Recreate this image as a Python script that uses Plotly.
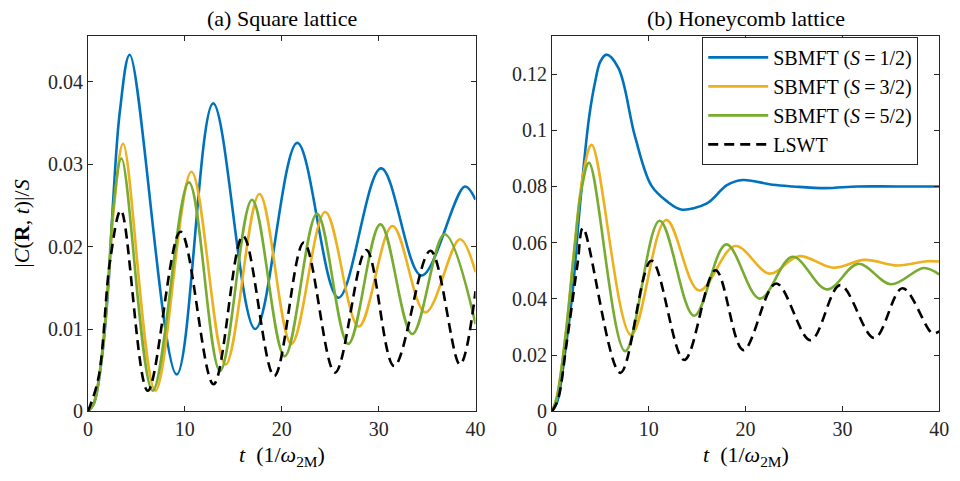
import plotly.graph_objects as go

# ---------------- data: (a) square lattice ----------------
sq_t_s12 = [0, 0.6, 1.43, 2.1, 2.61, 3.3, 4.31, 9.16, 12.92, 17.26, 21.6, 25.85, 30.25, 34.42, 38.9, 40]
sq_y_s12 = [0, 0.0009, 0.0064, 0.0152, 0.0258, 0.0365, 0.0433, 0.00447, 0.0374, 0.0100, 0.0326, 0.0138, 0.0295, 0.0165, 0.0273, 0.0257]

sq_t_s32 = [0, 0.6, 1.43, 2.1, 2.7, 3.63, 6.96, 10.68, 14.2, 17.7, 21.0, 24.49, 27.95, 31.43, 34.83, 38.39, 40]
sq_y_s32 = [0, 0.001, 0.0067, 0.0158, 0.025, 0.0325, 0.0025, 0.0291, 0.0057, 0.0264, 0.0082, 0.0242, 0.0103, 0.0225, 0.0120, 0.0209, 0.0169]

sq_t_s52 = [0, 0.6, 1.43, 2.1, 2.6, 3.46, 6.68, 10.42, 13.63, 16.93, 20.3, 23.64, 26.86, 30.18, 33.47, 36.8, 40]
sq_y_s52 = [0, 0.001, 0.0068, 0.016, 0.0245, 0.0307, 0.0025, 0.0278, 0.0049, 0.0257, 0.0067, 0.0240, 0.0082, 0.0227, 0.0094, 0.0215, 0.0106]

sq_t_lswt = [0, 1.09, 2.28, 3.4, 6.17, 9.55, 12.96, 16.0, 19.23, 22.28, 25.5, 28.73, 31.6, 35.34, 38.39, 40]
sq_y_lswt = [0, 0.0041, 0.0183, 0.0244, 0.0025, 0.0218, 0.0033, 0.0213, 0.0043, 0.0205, 0.0047, 0.0196, 0.0055, 0.0195, 0.0057, 0.0146]

# ---------------- data: (b) honeycomb lattice ----------------
hc_t_s12 = [0, 0.5, 1.45, 2.2, 2.8, 3.83, 4.5, 5.0, 5.63, 6.88, 8.58, 10.27, 11.96, 13.33, 16.0, 18.07, 19.7, 22.8, 24.9, 28.2, 31.6, 35.5, 40]
hc_y_s12 = [0, 0.003, 0.0235, 0.045, 0.070, 0.1046, 0.1180, 0.1245, 0.1269, 0.1220, 0.0977, 0.0803, 0.0745, 0.0718, 0.0740, 0.0805, 0.0823, 0.0806, 0.0800, 0.0794, 0.0800, 0.0800, 0.0800]

hc_t_s32 = [0, 0.5, 1.4, 2.3, 3.2, 4.1, 8.17, 11.8, 15.19, 18.92, 22.48, 25.5, 29.1, 32.3, 35.7, 38.76, 40]
hc_y_s32 = [0, 0.005, 0.027, 0.058, 0.084, 0.0948, 0.0272, 0.0681, 0.043, 0.0588, 0.049, 0.0552, 0.0511, 0.0539, 0.0519, 0.0534, 0.0533]

hc_t_s52 = [0, 0.5, 1.4, 2.3, 3.0, 3.83, 7.56, 11.12, 14.68, 18.0, 21.47, 24.85, 28.41, 31.64, 35.03, 38.4, 40]
hc_y_s52 = [0, 0.005, 0.027, 0.057, 0.078, 0.0884, 0.0214, 0.0678, 0.034, 0.0594, 0.0401, 0.055, 0.0434, 0.0525, 0.0452, 0.051, 0.0487]

hc_t_lswt = [0, 0.6, 1.5, 2.64, 3.2, 7.05, 10.27, 13.66, 16.89, 19.77, 23.15, 26.71, 29.77, 33.3, 36.2, 39.3, 40]
hc_y_lswt = [0, 0.004, 0.024, 0.0525, 0.0652, 0.0137, 0.0536, 0.0183, 0.0502, 0.0218, 0.0455, 0.0253, 0.0449, 0.0261, 0.0438, 0.0278, 0.0285]

series_names = ["SBMFT (<i>S</i>\u2009=\u20091/2)", "SBMFT (<i>S</i>\u2009=\u20093/2)",
                "SBMFT (<i>S</i>\u2009=\u20095/2)", "LSWT"]
x_ticks = [0, 10, 20, 30, 40]
sq_y_ticks = [0, 0.01, 0.02, 0.03, 0.04]
sq_y_ticktext = ["0", "0.01", "0.02", "0.03", "0.04"]
hc_y_ticks = [0, 0.02, 0.04, 0.06, 0.08, 0.1, 0.12]
hc_y_ticktext = ["0", "0.02", "0.04", "0.06", "0.08", "0.1", "0.12"]
titles = ["(a) Square lattice", "(b) Honeycomb lattice"]

colors = ["#0072BD", "#EDB120", "#77AC30", "#000000"]
FONT = "Liberation Serif, Times New Roman, serif"
AXC = "#262626"

fig = go.Figure()

sq = [(sq_t_s12, sq_y_s12), (sq_t_s32, sq_y_s32), (sq_t_s52, sq_y_s52), (sq_t_lswt, sq_y_lswt)]
hc = [(hc_t_s12, hc_y_s12), (hc_t_s32, hc_y_s32), (hc_t_s52, hc_y_s52), (hc_t_lswt, hc_y_lswt)]

for i, (t, y) in enumerate(sq):
    fig.add_trace(go.Scatter(
        x=t, y=y, mode="lines", xaxis="x", yaxis="y", showlegend=False,
        line=dict(color=colors[i], width=2.6, shape="spline", smoothing=1.0,
                  dash="10px,6px" if i == 3 else "solid"),
        name=series_names[i]))

for i, (t, y) in enumerate(hc):
    fig.add_trace(go.Scatter(
        x=t, y=y, mode="lines", xaxis="x2", yaxis="y2", showlegend=True,
        line=dict(color=colors[i], width=2.6, shape="spline", smoothing=1.0,
                  dash="10px,6px" if i == 3 else "solid"),
        name=series_names[i]))

W, H = 960, 481
xl = (84.3 / W, 478.0 / W)
xr = (555.7 / W, 949.0 / W)
yd = ((H - 421.0) / H, (H - 37.3) / H)

def xaxis(domain, anchor):
    return dict(domain=domain, anchor=anchor, range=[0, 40], tickvals=x_ticks,
                ticks="inside", ticklen=5, tickcolor=AXC, mirror="ticks",
                showline=True, linecolor=AXC, linewidth=1, showgrid=False,
                zeroline=False, tickfont=dict(family=FONT, size=20, color=AXC))

def yaxis(rng, tv, tt, anchor):
    return dict(domain=yd, anchor=anchor, range=rng, tickvals=tv, ticktext=tt,
                ticks="inside", ticklen=5, tickcolor=AXC, mirror="ticks",
                showline=True, linecolor=AXC, linewidth=1, showgrid=False,
                zeroline=False, tickfont=dict(family=FONT, size=20, color=AXC))

fig.update_layout(
    width=W, height=H, autosize=False, margin=dict(l=0, r=0, t=0, b=0),
    paper_bgcolor="white", plot_bgcolor="white",
    xaxis=xaxis(xl, "y"), yaxis=yaxis([0, 0.04552], sq_y_ticks, sq_y_ticktext, "x"),
    xaxis2=xaxis(xr, "y2"), yaxis2=yaxis([0, 0.13337], hc_y_ticks, hc_y_ticktext, "x2"),
    legend=dict(x=708.3 / W, y=(H - 37.7) / H, xanchor="left", yanchor="top",
                bgcolor="white", bordercolor=AXC, borderwidth=1,
                font=dict(family=FONT, size=20, color="black"),
                itemwidth=60, tracegroupgap=0),
    font=dict(family=FONT, color="black", size=20),
)

ann = []
for k, dom in enumerate((xl, xr)):
    ann.append(dict(text=titles[k], x=(dom[0] + dom[1]) / 2, y=(H - 19) / H,
                    xref="paper", yref="paper", xanchor="center", yanchor="middle",
                    showarrow=False, font=dict(family=FONT, size=22, color="black")))
xlabel = "<i>t</i>  (1/<i>ω</i><sub>2M</sub>)"
for dom in (xl, xr):
    ann.append(dict(text=xlabel, x=(dom[0] + dom[1]) / 2, y=(H - 467) / H,
                    xref="paper", yref="paper", xanchor="center", yanchor="middle",
                    showarrow=False, font=dict(family=FONT, size=22, color="black")))
ann.append(dict(text="|<i>C</i>(<b>R</b>, <i>t</i>)|/<i>S</i>", x=17 / W, y=(yd[0] + yd[1]) / 2,
                xref="paper", yref="paper", textangle=-90, showarrow=False,
                font=dict(family=FONT, size=22, color="black"), xanchor="center", yanchor="middle"))
fig.update_layout(annotations=ann)

fig.write_html(
    "out.html",
    config={"displayModeBar": False, "responsive": False},
    post_script=("document.body.style.margin='0px';"
                 "document.body.style.overflow='hidden';"
                 "document.documentElement.style.overflow='hidden';"),
)
